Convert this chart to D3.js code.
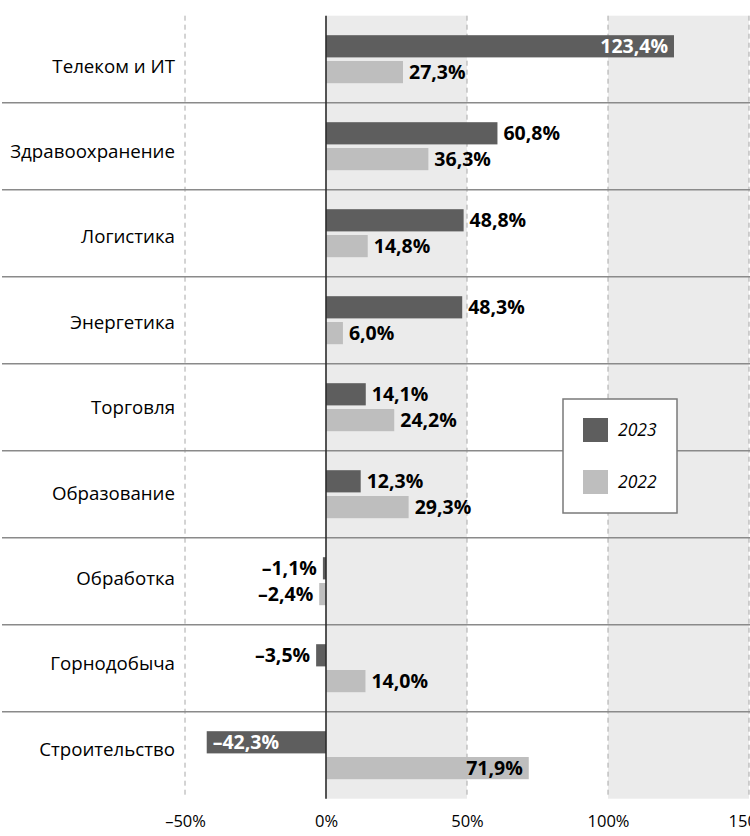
<!DOCTYPE html>
<html>
<head>
<meta charset="utf-8">
<script src="https://cdn.jsdelivr.net/npm/d3@7"></script>
<style>
  html, body { margin: 0; padding: 0; background: #fff; }
  svg { display: block; font-family: "Open Sans", "Noto Sans", sans-serif; }
</style>
</head>
<body>
<div id="chart"></div>
<script>
(function () {
  "use strict";

  const categories = [
    "Телеком и ИТ", "Здравоохранение", "Логистика", "Энергетика", "Торговля",
    "Образование", "Обработка", "Горнодобыча", "Строительство"
  ];
  const series = ["2023", "2022"];
  const values2023 = [123.4, 60.8, 48.8, 48.3, 14.1, 12.3, -1.1, -3.5, -42.3];
  const values2022 = [27.3, 36.3, 14.8, 6.0, 24.2, 29.3, -2.4, 14.0, 71.9];
  const tickValues = [-50, 0, 50, 100, 150];
  const shadedBands = [[0, 50], [100, 150]];
  const dashedLines = [-50, 50, 100, 150];

  const width = 750;
  const height = 836;
  const top = 15.7;
  const rowH = 87;
  const bottom = top + rowH * categories.length;

  const colors = { "2023": "#5e5e5e", "2022": "#bebebe" };
  const insideText = { "2023": "#ffffff", "2022": "#000000" };

  function fmt(v) {
    const s = Math.abs(v).toFixed(1).replace(".", ",") + "%";
    return v < 0 ? "\u2013" + s : s;
  }
  function fmtTick(v) {
    return (v < 0 ? "\u2013" : "") + Math.abs(v) + "%";
  }
  // long bars carry their label inside the bar
  function labelInside(v) {
    return v > 65 || v < -30;
  }

  const x = d3.scaleLinear().domain([-50, 150]).range([185, 749]);
  const y = d3.scaleBand().domain(categories).range([top, bottom]);
  const inner = d3.scaleBand().domain(series).range([-24, 24]).paddingInner(0.14);
  const labelY = d3.scalePoint().domain(categories).range([66, 749]);

  const svg = d3.select("#chart").append("svg")
    .attr("width", width)
    .attr("height", height)
    .attr("viewBox", `0 0 ${width} ${height}`);

  // shaded bands
  svg.append("g").selectAll("rect")
    .data(shadedBands)
    .join("rect")
    .attr("x", (d) => x(d[0]))
    .attr("width", (d) => x(d[1]) - x(d[0]))
    .attr("y", top)
    .attr("height", bottom - top)
    .attr("fill", "#ebebeb");

  // dashed gridlines
  svg.append("g").selectAll("line")
    .data(dashedLines)
    .join("line")
    .attr("x1", (d) => x(d)).attr("x2", (d) => x(d))
    .attr("y1", top).attr("y2", bottom)
    .attr("stroke", "#a8a8a8")
    .attr("stroke-width", 1)
    .attr("stroke-dasharray", "5,4");

  // row separators
  svg.append("g").selectAll("line")
    .data(categories.slice(1))
    .join("line")
    .attr("x1", 2).attr("x2", width)
    .attr("y1", (d) => y(d)).attr("y2", (d) => y(d))
    .attr("stroke", "#8a8a8a")
    .attr("stroke-width", 1.5);

  const flat = [];
  categories.forEach((c, i) => {
    flat.push({ cat: c, key: "2023", v: values2023[i] });
    flat.push({ cat: c, key: "2022", v: values2022[i] });
  });

  function barY(d) {
    return y(d.cat) + y.bandwidth() / 2 + inner(d.key);
  }

  svg.append("g").selectAll("rect")
    .data(flat)
    .join("rect")
    .attr("x", (d) => x(Math.min(0, d.v)))
    .attr("width", (d) => Math.abs(x(d.v) - x(0)))
    .attr("y", barY)
    .attr("height", inner.bandwidth())
    .attr("fill", (d) => colors[d.key]);

  // zero axis line
  svg.append("line")
    .attr("x1", x(0)).attr("x2", x(0))
    .attr("y1", top).attr("y2", bottom)
    .attr("stroke", "#2b2b2b")
    .attr("stroke-width", 1.6);

  // value labels
  svg.append("g").selectAll("text")
    .data(flat)
    .join("text")
    .attr("y", (d) => barY(d) + inner.bandwidth() / 2)
    .attr("dy", "0.36em")
    .attr("font-size", 19.5)
    .attr("font-weight", 700)
    .each(function (d) {
      const t = d3.select(this);
      const end = x(d.v);
      if (labelInside(d.v)) {
        t.attr("x", d.v > 0 ? end - 6 : end + 6)
          .attr("text-anchor", d.v > 0 ? "end" : "start")
          .attr("fill", insideText[d.key]);
      } else {
        t.attr("x", d.v >= 0 ? end + 6 : end - 6)
          .attr("text-anchor", d.v >= 0 ? "start" : "end")
          .attr("fill", "#000");
      }
    })
    .text((d) => fmt(d.v));

  // category labels
  svg.append("g").selectAll("text")
    .data(categories)
    .join("text")
    .attr("x", 175)
    .attr("y", (d) => labelY(d))
    .attr("dy", "0.36em")
    .attr("text-anchor", "end")
    .attr("font-size", 18.7)
    .attr("fill", "#000")
    .text((d) => d);

  // x axis
  const axis = svg.append("g")
    .attr("transform", `translate(0,${bottom})`)
    .call(d3.axisBottom(x).tickValues(tickValues).tickFormat(fmtTick).tickSize(0).tickPadding(17));
  axis.select(".domain").remove();
  axis.selectAll("text")
    .attr("font-family", "\"Open Sans\", sans-serif")
    .attr("font-size", 16.5)
    .attr("fill", "#000");

  // legend
  const legend = svg.append("g").attr("transform", "translate(563,399)");
  legend.append("rect")
    .attr("width", 114).attr("height", 114)
    .attr("fill", "#fff")
    .attr("stroke", "#7a7a7a")
    .attr("stroke-width", 1.5);
  const li = legend.selectAll("g")
    .data(series)
    .join("g")
    .attr("transform", (d, i) => `translate(20,${19 + i * 52})`);
  li.append("rect")
    .attr("width", 25).attr("height", 24)
    .attr("fill", (d) => colors[d]);
  li.append("text")
    .attr("x", 35).attr("y", 12)
    .attr("dy", "0.36em")
    .attr("font-size", 17.5)
    .attr("font-style", "italic")
    .attr("fill", "#000")
    .text((d) => d);
})();
</script>
</body>
</html>
